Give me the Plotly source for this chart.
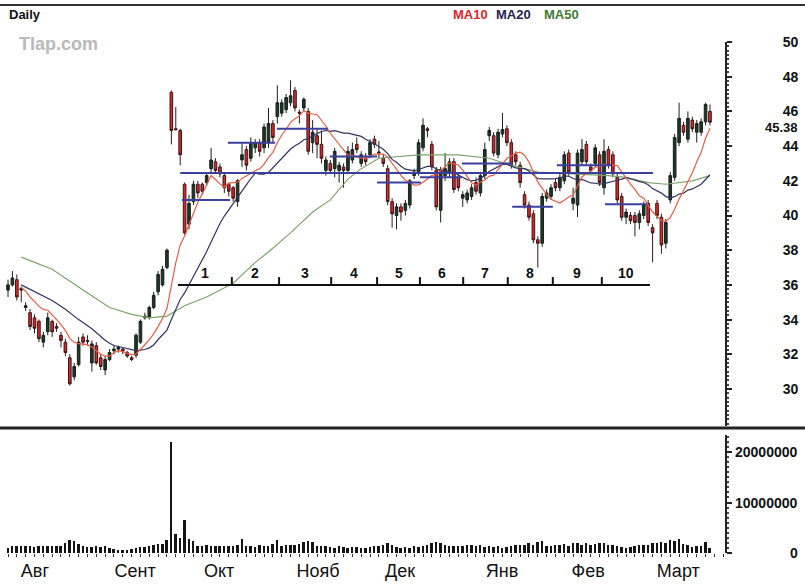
import plotly.graph_objects as go
import pandas as pd

# ---------------- data ----------------
opens = [35.7, 36.0, 36.3, 35.8, 34.7, 34.4, 34.1, 33.9, 32.7, 33.3,
         33.9, 33.6, 33.1, 32.7, 31.8, 30.7, 31.4, 33.0, 32.8, 31.5,
         32.5, 31.8, 31.1, 31.7, 32.2, 32.3, 32.3, 32.1, 31.8, 31.95,
         32.7, 34.1, 34.15, 34.7, 35.6, 36.0, 37.0, 47.1, 45.0, 44.9,
         41.8, 39.5, 40.8, 41.8, 41.8, 41.9, 42.7, 43.1, 42.8, 42.3,
         41.8, 41.6, 40.8, 43.2, 43.8, 43.3, 43.9, 44.2, 43.9, 44.2,
         45.3, 45.7, 45.9, 46.1, 46.5, 47.2, 45.95, 46.2, 46.0, 44.2,
         44.6, 44.1, 42.6, 43.0, 42.7, 42.6, 42.8, 42.6, 43.2, 44.1,
         43.0, 43.3, 43.5, 44.4, 43.6, 43.3, 42.7, 40.8, 40.0, 40.5,
         40.3, 40.6, 42.3, 42.5, 43.9, 45.0, 44.1, 42.6, 40.3, 42.3,
         42.5, 43.1, 42.2, 41.0, 40.9, 41.1, 41.9, 41.3, 42.3, 44.6,
         44.6, 43.5, 44.7, 45.0, 44.2, 43.5, 42.9, 41.2, 40.6, 40.1,
         38.6, 38.4, 41.0, 41.1, 41.9, 41.6, 42.0, 43.6, 40.7, 40.6,
         43.1, 44.1, 42.8, 43.0, 43.5, 41.6, 43.8, 43.5, 42.2, 41.1,
         39.9, 40.0, 40.0, 39.6, 40.0, 40.7, 39.3, 40.7, 39.9, 38.4,
         40.9, 42.2, 44.2, 45.2, 44.4, 45.5, 44.8, 44.8, 45.4, 46.0]
highs = [36.3, 36.8, 36.6, 35.9, 35.0, 34.6, 34.3, 34.0, 33.3, 34.4,
         34.0, 33.8, 33.3, 32.9, 32.0, 31.5, 33.0, 33.2, 33.1, 32.8,
         32.7, 32.0, 31.9, 32.3, 32.5, 32.5, 32.4, 32.2, 31.9, 33.2,
         34.0, 34.4, 34.8, 35.6, 36.8, 37.1, 38.1, 47.2, 46.25, 45.0,
         41.9, 41.2, 42.0, 42.0, 41.9, 42.5, 43.9, 43.3, 43.0, 42.5,
         41.9, 41.7, 42.1, 44.2, 44.0, 44.5, 44.4, 44.4, 45.3, 46.2,
         45.5, 47.5, 46.7, 47.0, 47.8, 47.4, 46.1, 46.8, 46.2, 45.5,
         45.0, 44.9, 43.4, 43.2, 43.9, 43.1, 43.0, 44.0, 44.2, 44.5,
         43.7, 43.6, 44.4, 44.6, 44.3, 43.5, 42.9, 41.0, 40.7, 40.7,
         40.9, 42.1, 42.7, 44.4, 45.6, 45.1, 44.3, 42.8, 42.8, 43.6,
         43.3, 43.3, 42.4, 41.4, 41.5, 41.8, 42.2, 42.5, 44.2, 45.1,
         44.8, 45.0, 45.9, 45.2, 44.4, 43.7, 43.1, 41.4, 40.8, 40.3,
         38.8, 41.3, 41.5, 41.8, 42.1, 42.4, 43.7, 43.8, 41.6, 43.8,
         44.4, 44.3, 43.0, 44.1, 43.7, 44.4, 44.0, 43.7, 42.4, 41.3,
         40.4, 40.2, 40.2, 40.3, 40.8, 40.9, 39.5, 40.9, 40.1, 39.8,
         42.5, 44.7, 46.5, 45.4, 46.0, 45.7, 45.5, 45.6, 46.5, 46.4]
lows = [35.3, 35.9, 35.1, 35.0, 34.5, 33.4, 33.2, 32.7, 32.4, 33.1,
        33.0, 33.3, 32.4, 31.9, 30.2, 30.5, 31.3, 32.5, 32.5, 31.0,
        31.4, 31.1, 30.8, 31.6, 32.0, 32.1, 32.0, 31.8, 31.6, 31.8,
        32.6, 34.0, 34.0, 34.6, 35.4, 35.9, 36.9, 44.1, 44.9, 42.9,
        38.9, 39.2, 40.6, 41.0, 41.2, 41.7, 42.5, 42.4, 42.2, 41.3,
        41.1, 40.8, 40.5, 42.8, 42.6, 43.1, 43.6, 43.4, 43.6, 43.9,
        44.2, 45.3, 45.7, 45.9, 46.3, 46.0, 45.3, 46.0, 43.5, 43.6,
        43.3, 43.0, 42.3, 42.4, 42.2, 41.9, 41.6, 42.4, 43.0, 43.6,
        42.8, 42.9, 43.3, 43.9, 43.3, 42.8, 40.6, 39.3, 39.2, 39.7,
        40.0, 40.4, 42.1, 42.3, 43.7, 44.5, 42.6, 40.3, 39.6, 42.0,
        42.2, 41.3, 41.4, 40.5, 40.7, 40.9, 41.2, 41.1, 42.1, 44.3,
        43.4, 43.3, 44.5, 44.0, 42.7, 42.9, 41.6, 40.4, 39.7, 38.4,
        37.0, 38.2, 40.8, 40.9, 41.4, 41.4, 41.8, 42.3, 40.3, 39.9,
        42.9, 42.9, 42.4, 42.8, 41.7, 41.2, 42.7, 42.2, 40.7, 39.7,
        39.5, 39.5, 38.8, 39.2, 39.8, 39.4, 37.3, 39.8, 37.8, 38.1,
        40.7, 42.0, 44.0, 44.6, 44.2, 44.8, 44.2, 44.6, 45.2, 45.2]
closes = [36.0, 36.4, 35.3, 35.7, 34.8, 33.6, 33.5, 32.9, 33.1, 34.1,
          33.3, 33.5, 32.8, 32.1, 30.3, 31.3, 32.7, 32.7, 32.75, 32.6,
          31.5, 31.3, 31.7, 32.1, 32.3, 32.4, 32.2, 31.9, 31.7, 33.1,
          33.9, 34.2, 34.7, 35.4, 36.6, 36.9, 38.0, 44.9, 44.95, 43.5,
          39.0, 40.7, 41.8, 41.3, 41.4, 42.3, 43.2, 42.6, 42.4, 41.6,
          41.4, 41.0, 42.0, 43.5, 42.9, 44.2, 44.2, 43.7, 45.1, 45.3,
          44.5, 46.5, 46.5, 46.8, 46.9, 46.2, 45.9, 46.7, 43.7, 44.8,
          44.1, 43.3, 43.2, 42.6, 43.7, 42.9, 42.6, 43.7, 43.8, 43.8,
          43.5, 43.1, 44.2, 44.1, 43.65, 43.0, 40.8, 40.1, 40.5, 40.2,
          40.7, 42.0, 42.5, 44.2, 45.2, 44.9, 42.8, 40.5, 42.6, 42.7,
          43.1, 41.5, 41.6, 41.2, 41.3, 41.6, 41.4, 42.3, 43.8, 44.9,
          43.6, 44.8, 44.95, 44.2, 42.9, 43.1, 41.9, 40.6, 39.9, 38.6,
          38.4, 41.1, 41.3, 41.6, 41.6, 42.2, 43.5, 42.5, 41.0, 43.6,
          43.8, 43.1, 42.6, 43.9, 41.9, 43.7, 42.9, 42.4, 40.9, 39.9,
          40.2, 39.7, 39.6, 40.1, 40.6, 39.6, 39.0, 40.0, 38.3, 39.6,
          42.3, 44.5, 45.6, 44.8, 45.6, 45.0, 45.3, 45.4, 46.4, 45.38]
volume_mln = [1.0, 1.4, 1.4, 1.3, 1.3, 1.3, 1.2, 1.3, 1.3, 1.4,
              1.4, 1.4, 1.4, 2.0, 2.5, 2.3, 1.8, 1.4, 1.1, 1.1,
              1.3, 1.2, 1.3, 1.0, 0.7, 0.5, 0.5, 0.5, 0.7, 0.9,
              1.1, 1.2, 1.4, 1.6, 1.8, 1.8, 2.5, 22.0, 3.8, 2.9,
              6.6, 2.8, 2.3, 1.4, 1.4, 1.6, 1.3, 1.4, 1.3, 1.4,
              1.4, 1.3, 1.6, 2.8, 1.4, 1.3, 1.2, 1.6, 1.4, 1.3,
              1.8, 2.6, 1.4, 1.6, 1.6, 1.6, 1.8, 2.1, 2.3, 2.1,
              1.4, 1.3, 1.3, 1.2, 1.0, 1.3, 1.2, 1.0, 1.2, 1.2,
              1.0, 1.0, 1.2, 1.3, 1.3, 1.6, 2.0, 1.6, 1.2, 1.0,
              1.2, 1.0, 1.3, 1.2, 1.4, 1.6, 1.9, 2.2, 2.0, 1.6,
              1.4, 1.3, 1.4, 1.3, 1.6, 1.6, 1.4, 1.5, 1.2, 1.4,
              1.1, 1.3, 1.0, 1.2, 1.3, 1.5, 1.6, 1.6, 2.0, 1.5,
              2.2, 2.3, 1.3, 1.3, 1.6, 1.5, 1.8, 1.3, 1.9, 1.9,
              1.6, 2.0, 1.5, 1.8, 1.9, 1.9, 1.5, 1.6, 1.3, 1.2,
              1.0, 1.2, 1.4, 1.5, 1.6, 1.6, 1.9, 2.0, 2.2, 2.0,
              2.6, 2.3, 2.8, 1.8, 1.6, 1.2, 1.3, 1.4, 2.1, 1.0]

ma20_early_idx = [3, 6, 10, 13, 16]
ma20_early_val = [36.0, 35.6, 35.1, 34.6, 34.0]
ma50_idx = [3, 10, 17, 23, 28, 32, 36, 40, 45, 51, 56, 59, 64, 69, 73, 77, 80,
            84, 93, 102, 109, 114, 120, 128, 136, 140, 145, 149, 152, 155, 159]
ma50_val = [37.6, 36.9, 35.7, 34.7, 34.3, 34.1, 34.2, 34.8, 35.3, 36.1, 37.3, 37.9,
            39.0, 40.2, 40.9, 42.1, 42.7, 43.3, 43.5, 43.5, 43.3, 42.9, 42.5,
            42.4, 42.3, 42.2, 41.9, 41.8, 41.9, 42.0, 42.3]

level_start = [39.0, 39.4, 49.8, 60.9, 72.9, 83.6, 93.3, 102.8, 114.2, 124.3, 135.2]
level_end = [146.1, 50.3, 60.5, 72.5, 83.6, 93.5, 102.8, 114.2, 123.4, 136.8, 144.7]
level_price = [42.45, 40.9, 44.2, 45.0, 43.4, 41.9, 42.2, 43.0, 40.5, 42.9, 40.65]

wave_bounds = [38.5, 50.7, 61.4, 73.2, 83.6, 93.3, 103.1, 113.2, 123.4, 134.5, 145.4]
wave_labels = ["1", "2", "3", "4", "5", "6", "7", "8", "9", "10"]
wave_price = 36.0

month_pos = [6.1, 28.8, 47.8, 70.2, 88.8, 111.9, 131.4, 151.8]
month_names = ["Авг", "Сент", "Окт", "Нояб", "Дек", "Янв", "Фев", "Март"]
price_ticks = [30, 32, 34, 36, 38, 40, 42, 44, 46, 48, 50]
last_price = 45.38
vol_ticks = [0, 10000000, 20000000]

# ---------------- derived ----------------
n = len(closes)
xs = list(range(n))
cs = pd.Series(closes)
ma10 = cs.rolling(10, min_periods=4).mean()
ma20 = cs.rolling(20).mean()
ma20_x = ma20_early_idx + list(range(19, n))
ma20_y = ma20_early_val + list(ma20.iloc[19:])
volume = [v * 1e6 for v in volume_mln]

W, H = 805, 585
ML, MR, MT, MB = 0, 80, 0, 32
PW, PH = W - ML - MR, H - MT - MB
def px(xpix):
    return (xpix - ML) / PW
def py(ypix):
    return 1 - (ypix - MT) / PH

FONT = "Liberation Sans, Arial, sans-serif"
fig = go.Figure()

fig.add_trace(go.Candlestick(
    x=xs, open=opens, high=highs, low=lows, close=closes,
    increasing=dict(fillcolor="#1f3628", line=dict(color="#18221b", width=1)),
    decreasing=dict(fillcolor="#d8262c", line=dict(color="#3b1616", width=1)),
    whiskerwidth=0, showlegend=False, xaxis="x", yaxis="y", hoverinfo="skip"))

fig.add_trace(go.Scatter(x=ma50_idx, y=ma50_val, mode="lines",
                         line=dict(color="#7ea36c", width=1.2), showlegend=False))
fig.add_trace(go.Scatter(x=ma20_x, y=ma20_y, mode="lines",
                         line=dict(color="#34325f", width=1.2), showlegend=False))
fig.add_trace(go.Scatter(x=xs, y=ma10, mode="lines",
                         line=dict(color="#ec5b45", width=1.2), showlegend=False))

# support / resistance levels
lx, ly = [], []
for s, e, p in zip(level_start, level_end, level_price):
    lx += [s, e, None]
    ly += [p, p, None]
fig.add_trace(go.Scatter(x=lx, y=ly, mode="lines",
                         line=dict(color="#3b3f9e", width=2), showlegend=False))

# wave count line
wx = [wave_bounds[0], wave_bounds[-1], None]
wy = [wave_price, wave_price, None]
for b in wave_bounds[1:-1]:
    wx += [b, b, None]
    wy += [wave_price, wave_price + 0.45, None]
fig.add_trace(go.Scatter(x=wx, y=wy, mode="lines",
                         line=dict(color="#111111", width=2), showlegend=False))

fig.add_trace(go.Bar(x=xs, y=volume, marker=dict(color="#141414", line=dict(width=0)),
                     width=0.45, xaxis="x2", yaxis="y2", showlegend=False))

xr = [(0 - 8) / 4.415, (PW - 8) / 4.415]

annotations = []
for i, lab in enumerate(wave_labels):
    annotations.append(dict(x=(wave_bounds[i] + wave_bounds[i + 1]) / 2, y=wave_price + 0.12,
                            xref="x", yref="y", text=lab, showarrow=False, yanchor="bottom",
                            font=dict(family=FONT, size=14, color="#111", weight="bold")))
annotations.append(dict(x=px(800), y=last_price, xref="paper", yref="y", text=f"{last_price:.2f}",
                        showarrow=False, xanchor="right", yanchor="middle", yshift=-5,
                        font=dict(family=FONT, size=13, color="#111", weight="bold")))
for v in vol_ticks:
    annotations.append(dict(x=px(800), y=v, xref="paper", yref="y2", text=str(v),
                            showarrow=False, xanchor="right", yanchor="middle",
                            font=dict(family=FONT, size=14, color="#111", weight="bold")))
annotations += [
    dict(x=px(7), y=py(15), xref="paper", yref="paper", text="Daily", showarrow=False,
         xanchor="left", yanchor="middle", font=dict(family=FONT, size=13, color="#111", weight="bold")),
    dict(x=px(17), y=py(44), xref="paper", yref="paper", text="Tlap.com", showarrow=False,
         xanchor="left", yanchor="middle", font=dict(family=FONT, size=18, color="#b9b9b9", weight="bold")),
    dict(x=px(451), y=py(14), xref="paper", yref="paper", text="MA10", showarrow=False,
         xanchor="left", yanchor="middle", font=dict(family=FONT, size=13, color="#e0242a", weight="bold")),
    dict(x=px(494), y=py(14), xref="paper", yref="paper", text="MA20", showarrow=False,
         xanchor="left", yanchor="middle", font=dict(family=FONT, size=13, color="#23234f", weight="bold")),
    dict(x=px(542), y=py(14), xref="paper", yref="paper", text="MA50", showarrow=False,
         xanchor="left", yanchor="middle", font=dict(family=FONT, size=13, color="#3e7a2e", weight="bold")),
]

shapes = [
    dict(type="line", xref="paper", yref="paper", x0=px(0), x1=px(805), y0=py(5), y1=py(5),
         line=dict(color="#333333", width=2)),
    dict(type="line", xref="paper", yref="paper", x0=px(0), x1=px(805), y0=py(428), y1=py(428),
         line=dict(color="#222222", width=3)),
]

fig.update_layout(
    width=W, height=H, margin=dict(l=ML, r=MR, t=MT, b=MB, autoexpand=False),
    paper_bgcolor="white", plot_bgcolor="white", showlegend=False,
    font=dict(family=FONT, color="#111"), boxgap=0.15,
    xaxis=dict(domain=[0, 1], range=xr, anchor="y", showticklabels=False, showgrid=False,
               zeroline=False, showline=False, ticks="", rangeslider=dict(visible=False),
               automargin=False),
    xaxis2=dict(domain=[0, 1], range=xr, anchor="y2", matches="x", showgrid=False, zeroline=False,
                showline=False, tickvals=month_pos, ticktext=month_names, ticks="",
                ticklabelstandoff=5, automargin=False,
                tickfont=dict(family=FONT, size=18, color="#111"),
                minor=dict(ticks="outside", dtick=2, tick0=0, ticklen=3, tickcolor="#333")),
    yaxis=dict(domain=[py(426), py(42)], range=[50 - (426 - 42) / 17.35, 50], anchor="x",
               side="right", showgrid=False, zeroline=False, showline=True, linecolor="#222",
               linewidth=2, ticks="outside", ticklen=5, tickwidth=1.5, tickcolor="#222",
               tickvals=price_ticks, ticklabelstandoff=48, automargin=False,
               tickfont=dict(family=FONT, size=14, color="#111", weight="bold"),
               minor=dict(ticks="outside", dtick=0.25, ticklen=2, tickcolor="#444")),
    yaxis2=dict(domain=[0, py(435)], range=[0, (553 - 435) / 50.5 * 1e7], anchor="x2",
                side="right", showgrid=False, zeroline=False, showline=True, linecolor="#222",
                linewidth=2, ticks="outside", ticklen=5, tickwidth=1.5, tickcolor="#222",
                tickvals=vol_ticks, showticklabels=False, automargin=False,
                minor=dict(ticks="outside", dtick=1e6, ticklen=2, tickcolor="#444")),
    annotations=annotations, shapes=shapes, bargap=0,
)

fig.write_html("out.html")
